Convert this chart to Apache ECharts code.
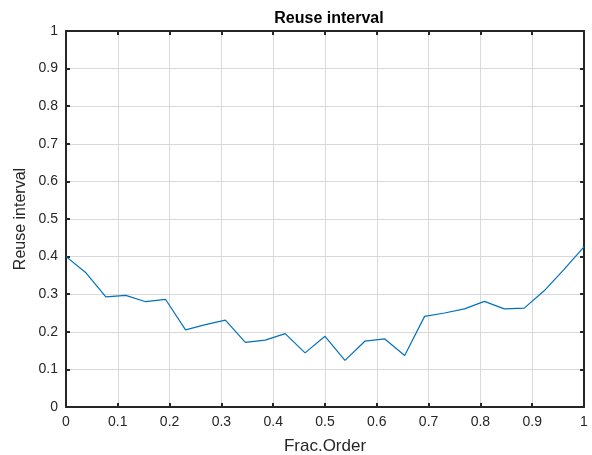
<!DOCTYPE html>
<html>
<head>
<meta charset="utf-8">
<script src="https://cdn.jsdelivr.net/npm/echarts@6/dist/echarts.min.js"></script>
<style>
html,body{margin:0;padding:0;background:#fff;}
#main{width:592px;height:455px;}
</style>
</head>
<body>
<div id="main"></div>
<script>
var fracOrder = [0, 0.0385, 0.0769, 0.1154, 0.1538, 0.1923, 0.2308, 0.2692, 0.3077, 0.3462,
    0.3846, 0.4231, 0.4615, 0.5, 0.5385, 0.5769, 0.6154, 0.6538, 0.6923, 0.7308,
    0.7692, 0.8077, 0.8462, 0.8846, 0.9231, 0.9615, 1];
var reuseInterval = [0.400, 0.357, 0.293, 0.297, 0.280, 0.286, 0.205, 0.219, 0.231, 0.172,
    0.178, 0.195, 0.144, 0.188, 0.124, 0.175, 0.181, 0.137, 0.241, 0.250,
    0.261, 0.281, 0.261, 0.263, 0.309, 0.366, 0.426];

var fontName = '"Liberation Sans", Arial, Helvetica, sans-serif';
var axisColor = '#262626';
var gridColor = '#d9d9d9';

function seriesData(){
    var out = [];
    for(var i=0;i<fracOrder.length;i++){
        out.push([fracOrder[i], reuseInterval[i]]);
    }
    return out;
}

function boxAxis(isMain, pos){
    return {
        type: 'value',
        position: pos,
        min: 0,
        max: 1,
        interval: 0.1,
        axisLine: {show: true, onZero: false, lineStyle: {color: axisColor, width: 2}},
        axisTick: {show: true, inside: true, length: 4, lineStyle: {color: axisColor, width: 2}},
        axisLabel: {show: isMain, color: axisColor, fontFamily: fontName, fontSize: 14, margin: 8},
        splitLine: {show: isMain, lineStyle: {color: gridColor, width: 1}}
    };
}

var myChart = echarts.init(document.getElementById('main'));
var xMain = boxAxis(true, 'bottom');
xMain.name = 'Frac.Order';
xMain.nameLocation = 'middle';
xMain.nameGap = 31;
xMain.nameTextStyle = {color: axisColor, fontFamily: fontName, fontSize: 17};
var yMain = boxAxis(true, 'left');
yMain.name = 'Reuse interval';
yMain.nameLocation = 'middle';
yMain.nameMoveOverlap = false;
yMain.nameGap = 37;
yMain.nameTextStyle = {color: axisColor, fontFamily: fontName, fontSize: 16};

var option = {
    animation: false,
    backgroundColor: '#fff',
    title: {
        text: 'Reuse interval',
        left: 324,
        textAlign: 'center',
        top: 6,
        textStyle: {color: '#000', fontFamily: fontName, fontSize: 16, fontWeight: 'bold'}
    },
    grid: {left: 66, right: 8, top: 31, bottom: 48, containLabel: false, outerBoundsMode: 'none'},
    xAxis: [xMain, boxAxis(false, 'top')],
    yAxis: [yMain, boxAxis(false, 'right')],
    series: [{
        type: 'line',
        data: seriesData(),
        symbol: 'none',
        lineStyle: {color: '#0072BD', width: 1.2},
        xAxisIndex: 0,
        yAxisIndex: 0
    }]
};
myChart.setOption(option);
</script>
</body>
</html>
